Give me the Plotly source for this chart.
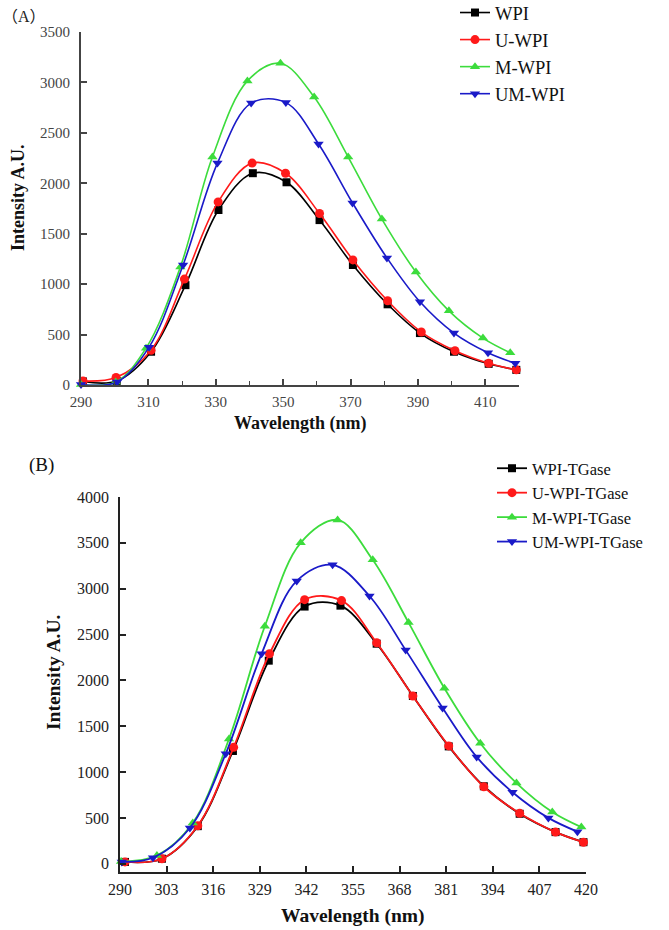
import plotly.graph_objects as go

W, H = 669, 930

# ---------------- Panel A data ----------------
a_names = ["WPI", "U-WPI", "M-WPI", "UM-WPI"]
a_wpi_x = [290.6, 300.6, 310.8, 321.0, 330.8, 341.0, 351.0, 360.8, 370.7, 381.0, 390.6, 400.7, 411.0, 419.2]
a_wpi_y = [35, 40, 330, 990, 1735, 2100, 2010, 1635, 1190, 800, 515, 330, 210, 150]
a_u_x = [290.6, 300.4, 310.8, 320.7, 330.7, 340.8, 350.7, 360.8, 370.7, 381.0, 391.0, 401.0, 411.0, 419.2]
a_u_y = [40, 75, 345, 1050, 1815, 2200, 2100, 1700, 1240, 835, 525, 340, 215, 150]
a_m_x = [290.0, 300.3, 309.3, 319.5, 329.0, 339.4, 349.2, 359.2, 369.3, 379.3, 389.4, 399.2, 409.3, 417.4]
a_m_y = [5, 30, 365, 1170, 2260, 3015, 3190, 2855, 2260, 1645, 1120, 735, 465, 320]
a_um_x = [290.0, 300.7, 310.2, 320.3, 330.5, 340.5, 350.8, 360.5, 370.6, 380.8, 390.6, 400.7, 410.8, 418.9]
a_um_y = [5, 30, 375, 1190, 2200, 2795, 2800, 2390, 1805, 1260, 825, 515, 320, 215]

# ---------------- Panel B data ----------------
b_names = ["WPI-TGase", "U-WPI-TGase", "M-WPI-TGase", "UM-WPI-TGase"]
b_wpi_x = [291.4, 301.7, 311.7, 321.5, 331.5, 341.5, 351.5, 361.6, 371.7, 381.7, 391.5, 401.5, 411.5, 419.3]
b_wpi_y = [20, 55, 410, 1230, 2215, 2805, 2815, 2400, 1830, 1280, 845, 545, 345, 235]
b_u_x = [291.4, 301.7, 311.7, 321.7, 331.7, 341.5, 351.8, 361.6, 371.7, 381.7, 391.5, 401.5, 411.5, 419.3]
b_u_y = [20, 55, 415, 1270, 2290, 2880, 2870, 2410, 1830, 1285, 840, 550, 345, 235]
b_m_x = [290.3, 300.3, 310.3, 320.4, 330.4, 340.4, 350.7, 360.5, 370.5, 380.5, 390.5, 400.6, 410.6, 418.7]
b_m_y = [25, 90, 445, 1360, 2590, 3500, 3750, 3315, 2630, 1915, 1315, 880, 565, 400]
b_um_x = [290.5, 299.2, 309.5, 319.5, 329.5, 339.3, 349.3, 359.6, 369.7, 380.0, 389.5, 399.5, 409.5, 417.6]
b_um_y = [20, 65, 390, 1200, 2290, 3085, 3260, 2920, 2330, 1700, 1165, 780, 500, 350]

a_xticks = [290, 310, 330, 350, 370, 390, 410]
a_xminor = [300, 320, 340, 360, 380, 400, 420]
a_yticks = [0, 500, 1000, 1500, 2000, 2500, 3000, 3500]
b_xticks = [290, 303, 316, 329, 342, 355, 368, 381, 394, 407, 420]
b_yticks = [0, 500, 1000, 1500, 2000, 2500, 3000, 3500, 4000]

colors = ["#000000", "#ff1a1a", "#3cdc3c", "#1a1ac8"]
symbols = ["square", "circle", "triangle-up", "triangle-down"]
sizes = [8, 9, 9, 9]

fig = go.Figure()

a_sets = [(a_wpi_x, a_wpi_y), (a_u_x, a_u_y), (a_m_x, a_m_y), (a_um_x, a_um_y)]
for i, (xs, ys) in enumerate(a_sets):
    fig.add_trace(go.Scatter(
        x=xs, y=ys, name=a_names[i], mode="lines+markers",
        line=dict(color=colors[i], width=1.6, shape="spline", smoothing=1.0),
        marker=dict(symbol=symbols[i], size=sizes[i], color=colors[i]),
        xaxis="x", yaxis="y", legend="legend", cliponaxis=False))

b_sets = [(b_wpi_x, b_wpi_y), (b_u_x, b_u_y), (b_m_x, b_m_y), (b_um_x, b_um_y)]
for i, (xs, ys) in enumerate(b_sets):
    fig.add_trace(go.Scatter(
        x=xs, y=ys, name=b_names[i], mode="lines+markers",
        line=dict(color=colors[i], width=1.8, shape="spline", smoothing=1.0),
        marker=dict(symbol=symbols[i], size=sizes[i], color=colors[i]),
        xaxis="x2", yaxis="y2", legend="legend2", cliponaxis=False))

def px_x(p):
    return p / W

def px_y(p):
    return (H - p) / H

serif = "Liberation Serif, Times New Roman, serif"
cjk = "<span style='font-family:Noto Sans CJK SC'>{}</span>"

fig.update_layout(
    template="none",
    width=W, height=H,
    margin=dict(l=0, r=0, t=0, b=0, pad=0, autoexpand=False),
    paper_bgcolor="white", plot_bgcolor="white",
    showlegend=True,
    xaxis=dict(
        domain=[px_x(81), px_x(519)], anchor="y", automargin=False,
        range=[290, 420], tickmode="array", tickvals=a_xticks,
        ticks="inside", ticklen=6, tickwidth=1.5, tickcolor="#444",
        minor=dict(ticks="inside", ticklen=4, tickwidth=1.2, tickcolor="#444",
                   tickmode="array", tickvals=a_xminor, showgrid=False),
        showline=True, linecolor="#444", linewidth=1.8, showgrid=False, zeroline=False,
        tickfont=dict(family=serif, size=15, color="#444"), ticklabelstandoff=2,
    ),
    yaxis=dict(
        domain=[px_y(385), px_y(32)], anchor="x", automargin=False,
        range=[0, 3500], tickmode="array", tickvals=a_yticks,
        ticks="inside", ticklen=6, tickwidth=1.5, tickcolor="#444",
        showline=True, linecolor="#444", linewidth=1.8, showgrid=False, zeroline=False,
        tickfont=dict(family=serif, size=15, color="#444"), ticklabelstandoff=6,
    ),
    xaxis2=dict(
        domain=[px_x(120), px_x(586)], anchor="y2", automargin=False,
        range=[290, 420], tickmode="array", tickvals=b_xticks,
        ticks="inside", ticklen=6, tickwidth=1.5, tickcolor="#222",
        showline=True, linecolor="#222", linewidth=1.8, showgrid=False, zeroline=False,
        tickfont=dict(family=serif, size=16, color="#222"), ticklabelstandoff=2,
    ),
    yaxis2=dict(
        domain=[px_y(872), px_y(497)], anchor="x2", automargin=False,
        range=[-90, 4000], tickmode="array", tickvals=b_yticks,
        ticks="inside", ticklen=6, tickwidth=1.5, tickcolor="#222",
        showline=True, linecolor="#222", linewidth=1.8, showgrid=False, zeroline=False,
        tickfont=dict(family=serif, size=16, color="#222"), ticklabelstandoff=6,
    ),
    legend=dict(
        x=px_x(455), y=px_y(-6), xanchor="left", yanchor="top",
        font=dict(family=serif, size=18.5, color="#111"),
        bgcolor="rgba(0,0,0,0)", borderwidth=0, tracegroupgap=0,
    ),
    legend2=dict(
        x=px_x(492), y=px_y(451), xanchor="left", yanchor="top",
        font=dict(family=serif, size=16.5, color="#111"),
        bgcolor="rgba(0,0,0,0)", borderwidth=0, tracegroupgap=0,
    ),
    annotations=[
        dict(text=cjk.format("（") + "A" + cjk.format("）"), x=px_x(0), y=px_y(15),
             xref="paper", yref="paper",
             xanchor="left", yanchor="middle", showarrow=False,
             font=dict(family=serif, size=16, color="#222")),
        dict(text="(B)", x=px_x(27), y=px_y(465), xref="paper", yref="paper",
             xanchor="left", yanchor="middle", showarrow=False,
             font=dict(family=serif, size=19, color="#111")),
        dict(text="<b>Wavelength (nm)</b>", x=px_x(300), y=px_y(423), xref="paper", yref="paper",
             xanchor="center", yanchor="middle", showarrow=False,
             font=dict(family=serif, size=18, color="#111")),
        dict(text="<b>Intensity A.U.</b>", x=px_x(18), y=px_y(198), xref="paper", yref="paper",
             xanchor="center", yanchor="middle", showarrow=False, textangle=-90,
             font=dict(family=serif, size=18, color="#111")),
        dict(text="<b>Wavelength (nm)</b>", x=px_x(353), y=px_y(916), xref="paper", yref="paper",
             xanchor="center", yanchor="middle", showarrow=False,
             font=dict(family=serif, size=19.5, color="#111")),
        dict(text="<b>Intensity A.U.</b>", x=px_x(53), y=px_y(672), xref="paper", yref="paper",
             xanchor="center", yanchor="middle", showarrow=False, textangle=-90,
             font=dict(family=serif, size=19.5, color="#111")),
    ],
)

fig.write_html("out.html", config={"displayModeBar": False},
               post_script="document.body.style.margin='0px';document.body.style.padding='0px';")
